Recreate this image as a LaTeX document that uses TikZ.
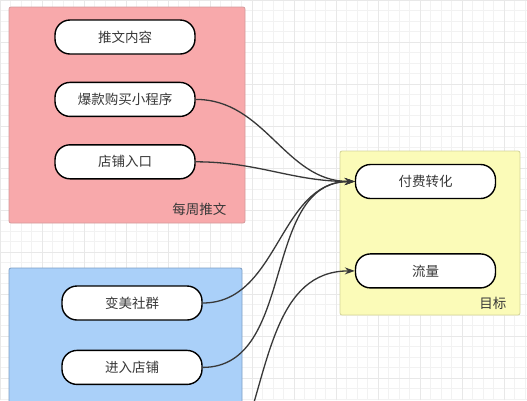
\documentclass[tikz,border=0pt]{standalone}
\usepackage{fontspec}
\setmainfont{Noto Sans CJK SC}
\usepackage{tikz}
\usetikzlibrary{arrows.meta,positioning}
\definecolor{pinkbg}{HTML}{F8A9AB}
\definecolor{pinkline}{HTML}{D49A9C}
\definecolor{bluebg}{HTML}{AAD0F9}
\definecolor{blueline}{HTML}{7F9FC4}
\definecolor{yellowbg}{HTML}{FBFBB8}
\definecolor{yellowline}{HTML}{D4D49A}
\definecolor{dark}{HTML}{383838}

\begin{document}
\begin{tikzpicture}[x=1pt, y=1pt, every node/.style={font=\fontsize{13.5}{15}\selectfont, text=dark}, pill/.style={draw=black, line width=1.4pt, fill=white, rounded corners=15pt, minimum width=140pt, minimum height=34pt, inner sep=0pt}, group/.style={line width=0.8pt, rounded corners=2pt}, arr/.style={-{Stealth[length=10pt,width=7pt]}, line width=1.3pt, dark}]
\useasboundingbox (0,0) rectangle (527,-400);
\clip (0,0) rectangle (527,-400);
% grid
\fill[white] (0,0) rectangle (527,-400);
\draw[step=10.5pt, color=black!5, line width=0.5pt] (0,0) grid (527,-400);
\draw[step=42pt, color=black!9, line width=0.6pt] (0,0) grid (527,-400);
% groups
\draw[group, fill=pinkbg, draw=pinkline] (9,-7) rectangle (245,-223);
\draw[group, fill=bluebg, draw=blueline] (9,-268) rectangle (242,-430);
\draw[group, fill=yellowbg, draw=yellowline] (340,-151) rectangle (520,-315);
\node[anchor=south east] (weekly) at (230,-219) {每周推文};
\node[anchor=south east] (goal) at (510,-313) {目标};
% nodes
\node[pill] (tuiwen) at (125,-37) {推文内容};
\node[pill, below=27pt of tuiwen] (baokuan) {爆款购买小程序};
\node[pill, below=27pt of baokuan] (dianpu) {店铺入口};
\node[pill] (bianmei) at (132,-303) {变美社群};
\node[pill, below=29pt of bianmei] (jinru) {进入店铺};
\node[pill] (fufei) at (425.5,-181.5) {付费转化};
\node[pill, below=54pt of fufei] (liuliang) {流量};
\coordinate (more) at (242,-440);
% edges
\draw[arr] (baokuan.east) to[out=0, in=180] (fufei.west);
\draw[arr] (dianpu.east) to[out=0, in=180] (fufei.west);
\draw[arr] (bianmei.east) to[out=0, in=180] (fufei.west);
\draw[arr] (jinru.east) to[out=0, in=180] (fufei.west);
\draw[arr] (more) to[out=70, in=180] (liuliang.west);
\end{tikzpicture}
\end{document}
